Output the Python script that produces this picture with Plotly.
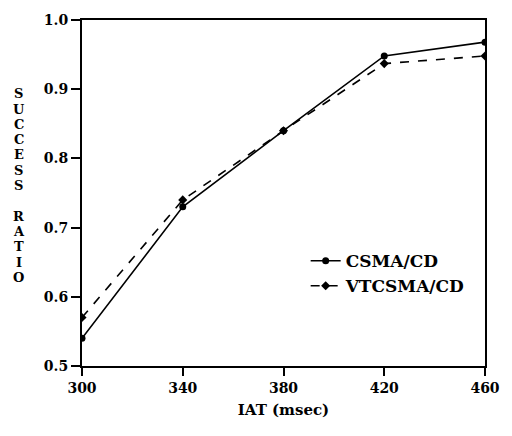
import plotly.graph_objects as go

iat = [300, 340, 380, 420, 460]
csma_cd = [0.54, 0.73, 0.84, 0.948, 0.968]
vtcsma_cd = [0.57, 0.74, 0.84, 0.937, 0.948]
x_ticks = [300, 340, 380, 420, 460]
y_ticks = [0.5, 0.6, 0.7, 0.8, 0.9, 1.0]
y_label = "SUCCESS RATIO"

font_fam = "DejaVu Serif, Liberation Serif, serif"

fig = go.Figure()
fig.add_trace(go.Scatter(
    x=iat, y=csma_cd, name="<b>CSMA/CD</b>", mode="lines+markers",
    line=dict(color="black", width=1.6, dash="solid"),
    marker=dict(symbol="circle", size=7, color="black"),
))
fig.add_trace(go.Scatter(
    x=iat, y=vtcsma_cd, name="<b>VTCSMA/CD</b>", mode="lines+markers",
    line=dict(color="black", width=1.6, dash="dash"),
    marker=dict(symbol="diamond", size=7, color="black"),
))

W, H = 512, 436
L, R, T, B = 82, 15, 14, 70
fig.update_layout(
    width=W, height=H,
    margin=dict(l=L, r=R, t=T, b=B),
    paper_bgcolor="white", plot_bgcolor="white",
    font=dict(family=font_fam, color="black", size=14),
    showlegend=True,
    legend=dict(x=0.555, y=0.355, xanchor="left", yanchor="top",
                bgcolor="rgba(0,0,0,0)", font=dict(size=17, family=font_fam),
                tracegroupgap=2),
    xaxis=dict(
        range=[300, 460], tickvals=x_ticks, ticktext=[f"<b>{v}</b>" for v in x_ticks],
        showline=True, linecolor="black", linewidth=2, mirror=True,
        ticks="outside", ticklen=8, tickwidth=2, tickcolor="black",
        showgrid=False, zeroline=False, ticklabeloverflow="allow",
        title=dict(text="<b>IAT (msec)</b>", font=dict(size=15), standoff=10),
        tickfont=dict(size=14),
    ),
    yaxis=dict(
        range=[0.5, 1.0], tickvals=y_ticks, ticktext=[f"<b>{v:.1f}</b>" for v in y_ticks],
        showline=True, linecolor="black", linewidth=2, mirror=True,
        ticks="outside", ticklen=9, tickwidth=2, tickcolor="black",
        showgrid=False, zeroline=False, tickfont=dict(size=14),
        ticklabeloverflow="allow",
    ),
)

# stacked vertical label, one letter per line
n = len(y_label)
top_px, bot_px = 89, 276
plot_w, plot_h = W - L - R, H - T - B
for i, ch in enumerate(y_label):
    if ch == " ":
        continue
    ypx = top_px + (bot_px - top_px) * i / (n - 1)
    fig.add_annotation(
        text=f"<b>{ch}</b>", xref="paper", yref="paper",
        x=(17 - L) / plot_w, y=1 - (ypx - T) / plot_h,
        xanchor="center", yanchor="middle", showarrow=False,
        font=dict(size=13, family=font_fam),
    )

fig.write_html(
    "out.html",
    config={"displayModeBar": False},
    post_script="document.body.style.margin='0';document.body.style.overflow='hidden';",
)
